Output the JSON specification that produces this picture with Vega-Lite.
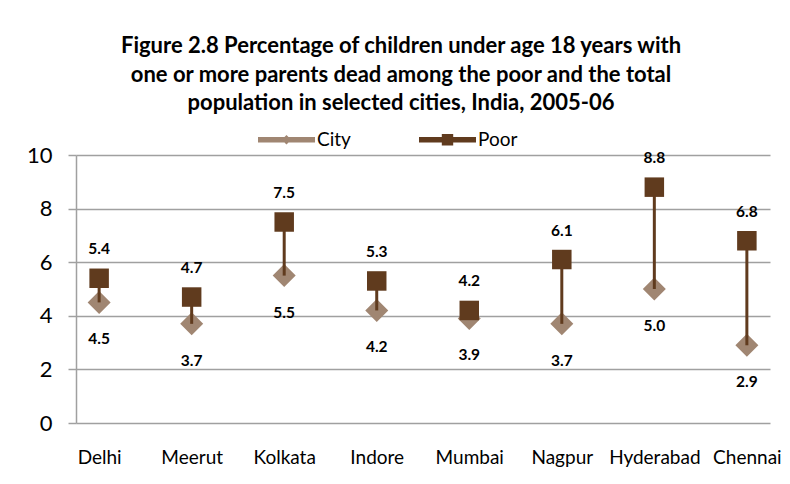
{
  "$schema": "https://vega.github.io/schema/vega-lite/v6.json",
  "width": 694,
  "height": 268,
  "autosize": "none",
  "padding": {"left": 76, "top": 155, "right": 20, "bottom": 61},
  "background": "white",
  "title": {
    "text": ["Figure 2.8 Percentage of children under age 18 years with", "one or more parents dead among the poor and the total", "population in selected cities, India, 2005-06"],
    "font": "Lato",
    "fontSize": 22,
    "fontWeight": "bold",
    "color": "black",
    "anchor": "middle",
    "frame": "group",
    "dx": -22,
    "lineHeight": 28.5,
    "offset": 15
  },
  "config": {
    "view": {"stroke": null},
    "font": "Lato"
  },
  "data": {
    "values": [
      {"city": "Delhi", "City": 4.5, "Poor": 5.4},
      {"city": "Meerut", "City": 3.7, "Poor": 4.7},
      {"city": "Kolkata", "City": 5.5, "Poor": 7.5},
      {"city": "Indore", "City": 4.2, "Poor": 5.3},
      {"city": "Mumbai", "City": 3.9, "Poor": 4.2},
      {"city": "Nagpur", "City": 3.7, "Poor": 6.1},
      {"city": "Hyderabad", "City": 5.0, "Poor": 8.8},
      {"city": "Chennai", "City": 2.9, "Poor": 6.8}
    ]
  },
  "encoding": {
    "x": {
      "field": "city",
      "type": "nominal",
      "sort": null,
      "scale": {"type": "point", "padding": 0.25},
      "axis": {
        "title": null,
        "labelAngle": 0,
        "labelFont": "Lato",
        "labelFontSize": 19,
        "labelColor": "black",
        "labelPadding": 25,
        "ticks": false,
        "domain": false
      }
    }
  },
  "layer": [
    {
      "mark": {"type": "point", "shape": "diamond", "filled": true, "size": 529, "color": "#a08672", "opacity": 1},
      "encoding": {
        "y": {
          "field": "City",
          "type": "quantitative",
          "scale": {"domain": [0, 10]},
          "axis": {
            "title": null,
            "values": [0, 2, 4, 6, 8, 10],
            "labelFont": "Lato",
            "labelFontSize": 22,
            "labelColor": "black",
            "labelPadding": 16,
            "tickSize": 8,
            "tickColor": "#a0a0a0",
            "tickWidth": 1.5,
            "domainColor": "#a0a0a0",
            "domainWidth": 1.5,
            "gridColor": "#a0a0a0",
            "gridWidth": 1.5
          }
        }
      }
    },
    {
      "mark": {"type": "rule", "color": "#603b1e", "strokeWidth": 3},
      "encoding": {
        "y": {"field": "City", "type": "quantitative"},
        "y2": {"field": "Poor"}
      }
    },
    {
      "mark": {"type": "point", "shape": "square", "filled": true, "size": 380, "color": "#603b1e", "opacity": 1},
      "encoding": {
        "y": {"field": "Poor", "type": "quantitative"}
      }
    },
    {
      "mark": {"type": "text", "font": "Lato", "fontSize": 15.5, "fontWeight": "bold", "color": "black", "dy": 37},
      "encoding": {
        "y": {"field": "City", "type": "quantitative"},
        "text": {"field": "City", "type": "quantitative", "format": ".1f"}
      }
    },
    {
      "mark": {"type": "text", "font": "Lato", "fontSize": 15.5, "fontWeight": "bold", "color": "black", "dy": -29},
      "encoding": {
        "y": {"field": "Poor", "type": "quantitative"},
        "text": {"field": "Poor", "type": "quantitative", "format": ".1f"}
      }
    },
    {
      "transform": [{"fold": ["City", "Poor"], "as": ["series", "value"]}],
      "mark": {"type": "point", "filled": true, "size": 0, "opacity": 1},
      "encoding": {
        "y": {"field": "value", "type": "quantitative"},
        "color": {
          "field": "series",
          "type": "nominal",
          "scale": {"domain": ["City", "Poor"], "range": ["#a08672", "#603b1e"]},
          "legend": {
            "orient": "none",
            "legendX": 182,
            "legendY": -25,
            "direction": "horizontal",
            "title": null,
            "labelFont": "Lato",
            "labelFontSize": 19,
            "labelColor": "black",
            "symbolSize": 361,
            "symbolOpacity": 1,
            "symbolStrokeWidth": 0,
            "labelOffset": 40,
            "columnPadding": 68
          }
        },
        "shape": {
          "field": "series",
          "type": "nominal",
          "scale": {
            "domain": ["City", "Poor"],
            "range": ["M-1,-0.3H5V0.3H-1Z M1.5,0L2,-0.5L2.5,0L2,0.5Z", "M-1,-0.3H5V0.3H-1Z M1.4,-0.6H2.6V0.6H1.4Z"]
          }
        }
      }
    }
  ]
}
